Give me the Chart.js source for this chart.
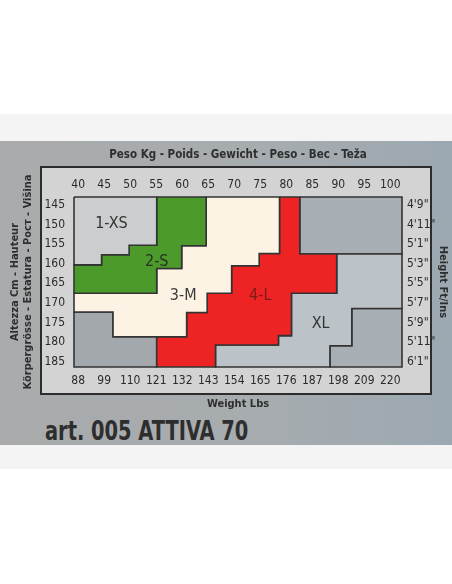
<!DOCTYPE html>
<html>
<head>
<meta charset="utf-8">
<script src="https://cdn.jsdelivr.net/npm/chart.js@4.4.1/dist/chart.umd.min.js"></script>
<style>
  body { margin: 0; width: 452px; height: 584px; background: #fff; position: relative; overflow: hidden; }
  .band { position: absolute; left: 0; top: 114px; width: 452px; height: 355px; background: #f4f4f4; }
  .card { position: absolute; left: 0; top: 141px; width: 452px; height: 304px;
          background: linear-gradient(90deg, #a9abac 0%, #a7acaf 55%, #9ca8b1 100%); }
  .frame { position: absolute; left: 40px; top: 166px; width: 388px; height: 225px;
           border: 2px solid #2c2c2c; background: #d2d3d2; }
  .art { position: absolute; left: 45px; top: 418px; font: bold 26px/26px 'Liberation Sans Narrow', 'DejaVu Sans Condensed', sans-serif;
         font-stretch: condensed; color: #2e2e2e; white-space: nowrap; transform: scaleX(0.83); transform-origin: 0 0; }
  #chart { position: absolute; left: 0; top: 0; }
</style>
</head>
<body>
<div class="band"></div>
<div class="card"></div>
<div class="frame"></div>
<div class="art">art. 005 ATTIVA 70</div>
<canvas id="chart" width="452" height="584"></canvas>
<script>
const cond = "'Liberation Sans Narrow', 'DejaVu Sans Condensed', sans-serif";

// axis ranges (kg across, cm down)
const kgMin = 39.2, kgMax = 102.25;
const cmMin = 143.0, cmMax = 186.3;

const kgTicks = [40, 45, 50, 55, 60, 65, 70, 75, 80, 85, 90, 95, 100];
const lbsTicks = ['88', '99', '110', '121', '132', '143', '154', '165', '176', '187', '198', '209', '220'];
const cmTicks = [145, 150, 155, 160, 165, 170, 175, 180, 185];
const ftTicks = ['4\'9"', '4\'11"', '5\'1"', '5\'3"', '5\'5"', '5\'7"', '5\'9"', '5\'11"', '6\'1"'];

// size zones, corners as [kg, cm]
const xsShape = [[39.2, 143], [55.1, 143], [55.1, 155.3], [49.8, 155.3], [49.8, 157.7], [44.5, 157.7], [44.5, 160.3], [39.2, 160.3]];
const sShape = [[55.1, 143], [64.6, 143], [64.6, 155.4], [59.9, 155.4], [59.9, 161.2], [55.1, 161.2], [55.1, 167.5], [39.2, 167.5],
                [39.2, 160.3], [44.5, 160.3], [44.5, 157.7], [49.8, 157.7], [49.8, 155.3], [55.1, 155.3]];
const mShape = [[64.6, 143], [78.7, 143], [78.7, 157.4], [74.8, 157.4], [74.8, 160.5], [69.5, 160.5], [69.5, 167.5], [64.8, 167.5],
                [64.8, 172.4], [60.85, 172.4], [60.85, 178.6], [46.7, 178.6], [46.7, 172.3], [39.2, 172.3], [39.2, 167.5],
                [55.1, 167.5], [55.1, 161.2], [59.9, 161.2], [59.9, 155.4], [64.6, 155.4]];
const lShape = [[78.7, 143], [82.6, 143], [82.6, 157.5], [89.7, 157.5], [89.7, 167.5], [81.0, 167.5], [81.0, 178.3], [78.5, 178.3],
                [78.5, 180.7], [66.4, 180.7], [66.4, 186.3], [55.1, 186.3], [55.1, 178.6], [60.85, 178.6], [60.85, 172.4],
                [64.8, 172.4], [64.8, 167.5], [69.5, 167.5], [69.5, 160.5], [74.8, 160.5], [74.8, 157.4], [78.7, 157.4]];
const xlShape = [[89.7, 157.5], [102.25, 157.5], [102.25, 171.4], [92.6, 171.4], [92.6, 180.9], [88.4, 180.9], [88.4, 186.3],
                 [66.4, 186.3], [66.4, 180.7], [78.5, 180.7], [78.5, 178.3], [81.0, 178.3], [81.0, 167.5], [89.7, 167.5]];
const topRightShape = [[82.6, 143], [102.25, 143], [102.25, 157.5], [82.6, 157.5]];
const bottomLeftShape = [[39.2, 172.3], [46.7, 172.3], [46.7, 178.6], [55.1, 178.6], [55.1, 186.3], [39.2, 186.3]];
const bottomRightShape = [[92.6, 171.4], [102.25, 171.4], [102.25, 186.3], [88.4, 186.3], [88.4, 180.9], [92.6, 180.9]];

const sizeNames = ['1-XS', '2-S', '3-M', '4-L', 'XL'];
const labelKg = [46.4, 55.1, 60.2, 75.0, 86.6];
const labelCm = [149.8, 159.6, 168.2, 168.2, 175.2];
const labelColors = ['#333333', '#28321f', '#3a3a3a', '#7e1a1a', '#333333'];

const zones = [
  { shape: xsShape, color: '#cbcdce' },
  { shape: sShape, color: '#4c9a2c' },
  { shape: mShape, color: '#fdf3e4' },
  { shape: lShape, color: '#ee2424' },
  { shape: xlShape, color: '#bcc3c8' },
  { shape: topRightShape, color: '#a8afb4' },
  { shape: bottomLeftShape, color: '#a3a8ac' },
  { shape: bottomRightShape, color: '#a8afb4' },
];

const sizeLabels = {
  id: 'sizeLabels',
  afterDatasetsDraw(chart) {
    const { ctx, scales: { x, y } } = chart;
    ctx.save();
    ctx.font = '16px ' + cond;
    ctx.textAlign = 'center';
    ctx.textBaseline = 'middle';
    sizeNames.forEach((name, i) => {
      ctx.fillStyle = labelColors[i];
      ctx.fillText(name, x.getPixelForValue(labelKg[i]), y.getPixelForValue(labelCm[i]));
    });
    ctx.restore();
  }
};

const tickFont = { family: cond, size: 12 };
const titleFont = { family: cond, size: 11, weight: 'bold' };
const noGrid = { display: false, drawTicks: false };

new Chart(document.getElementById('chart'), {
  type: 'scatter',
  data: {
    datasets: zones.map(z => ({
      data: [...z.shape, z.shape[0]].map(([kg, cm]) => ({ x: kg, y: cm })),
      showLine: true,
      fill: 'shape',
      backgroundColor: z.color,
      borderColor: '#333333',
      borderWidth: 1.6,
      borderJoinStyle: 'miter',
      pointRadius: 0,
      pointHoverRadius: 0,
      tension: 0,
      clip: false
    }))
  },
  options: {
    responsive: false,
    animation: false,
    events: [],
    layout: { padding: { top: 140, left: 0, right: 0, bottom: 169 } },
    plugins: { legend: { display: false }, tooltip: { enabled: false } },
    scales: {
      x: {
        type: 'linear', position: 'top', min: kgMin, max: kgMax,
        grid: noGrid, border: { display: false },
        afterBuildTicks: s => { s.ticks = kgTicks.map(v => ({ value: v })); },
        afterFit: s => { s.height = 57; },
        ticks: { font: tickFont, color: '#2b2b2b', padding: 5, autoSkip: false, maxRotation: 0, minRotation: 0, callback: v => v },
        title: { display: true, text: 'Peso Kg - Poids - Gewicht - Peso - Bec - Teža', font: { family: cond, size: 11.5, weight: 'bold' },
                 color: '#2e2e2e', padding: { top: 8, bottom: 0 } }
      },
      x2: {
        type: 'linear', position: 'bottom', min: kgMin, max: kgMax,
        grid: noGrid, border: { display: false },
        afterBuildTicks: s => { s.ticks = kgTicks.map(v => ({ value: v })); },
        afterFit: s => { s.height = 48; },
        ticks: { font: tickFont, color: '#2b2b2b', padding: 7, autoSkip: false, maxRotation: 0, minRotation: 0,
                 callback: (v, i) => lbsTicks[i] },
        title: { display: true, text: 'Weight Lbs', font: titleFont, color: '#2e2e2e', padding: { top: 0, bottom: 4 } }
      },
      y: {
        type: 'linear', position: 'left', reverse: true, min: cmMin, max: cmMax,
        grid: noGrid, border: { display: false },
        afterBuildTicks: s => { s.ticks = cmTicks.map(v => ({ value: v })); },
        afterFit: s => { s.width = 74; },
        ticks: { font: tickFont, color: '#2b2b2b', padding: 9, autoSkip: false, callback: v => v },
        title: { display: true, text: ['Altezza Cm - Hauteur', 'Körpergrösse - Estatura - Рост - Višina'], font: titleFont,
                 color: '#2e2e2e', padding: { top: 8.5, bottom: 0 } }
      },
      y2: {
        type: 'linear', position: 'right', reverse: true, min: cmMin, max: cmMax,
        grid: noGrid, border: { display: false },
        afterBuildTicks: s => { s.ticks = cmTicks.map(v => ({ value: v })); },
        afterFit: s => { s.width = 50; },
        ticks: { font: tickFont, color: '#2b2b2b', padding: 5, autoSkip: false, callback: (v, i) => ftTicks[i] },
        title: { display: true, text: 'Height Ft/Ins', font: titleFont, color: '#2e2e2e', padding: { top: 2.5, bottom: 0 } }
      }
    }
  },
  plugins: [sizeLabels]
});
</script>
</body>
</html>
